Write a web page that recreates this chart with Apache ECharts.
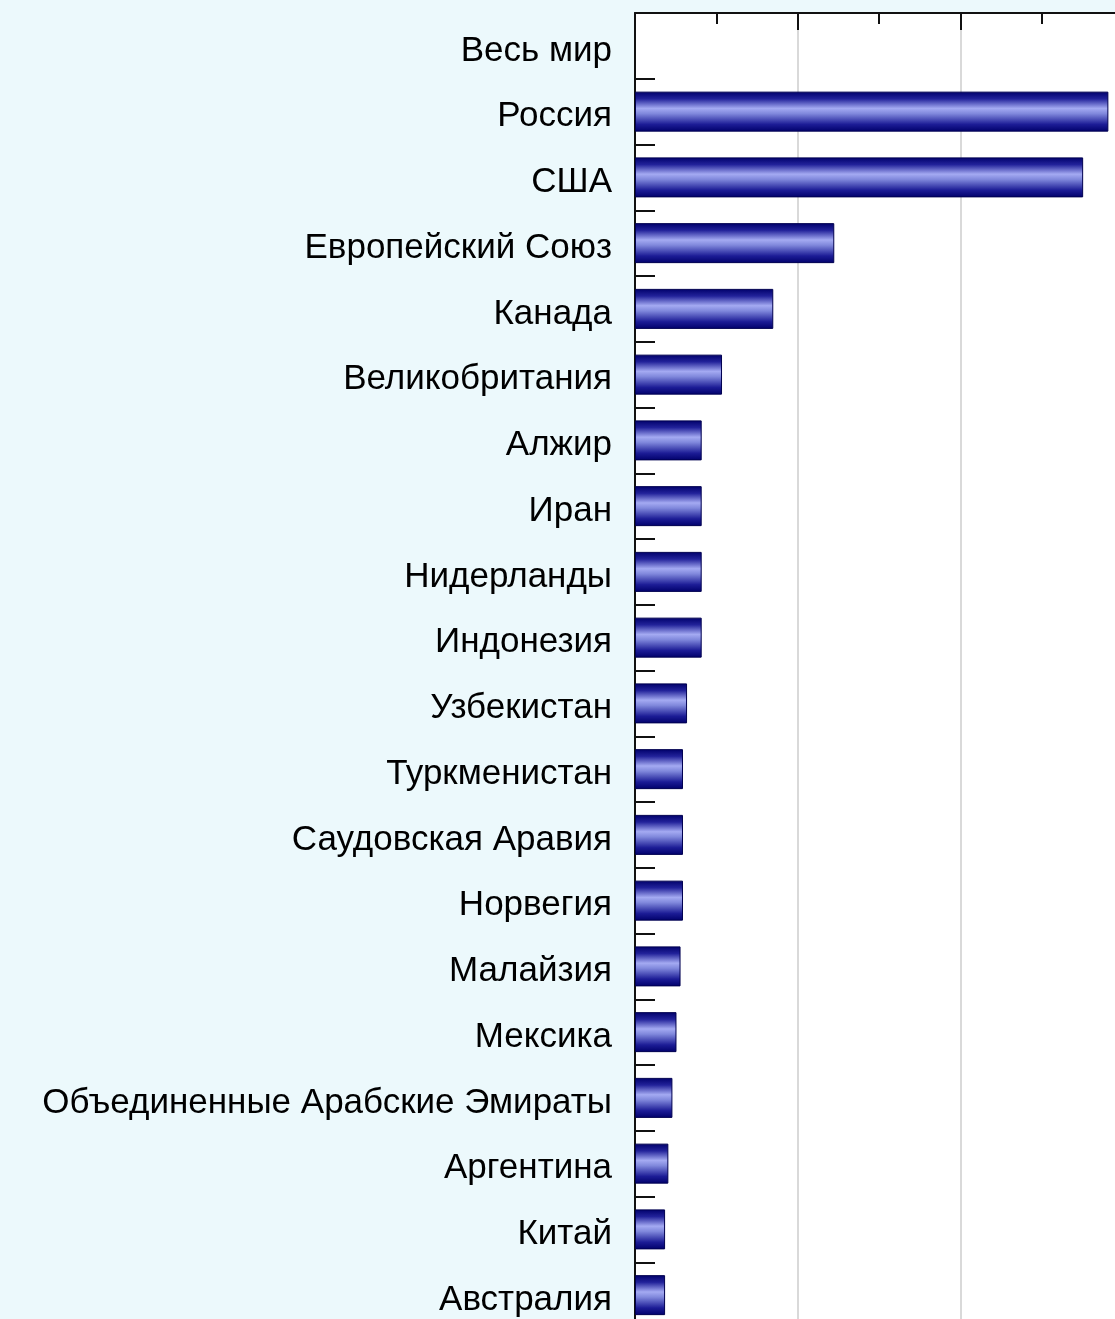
<!DOCTYPE html>
<html>
<head>
<meta charset="utf-8">
<script src="https://cdn.jsdelivr.net/npm/echarts@6/dist/echarts.min.js"></script>
<style>
html,body{margin:0;padding:0;overflow:hidden;background:#ecf9fc;}
#chart{width:1140px;height:1340px;}
</style>
</head>
<body>
<div id="chart"></div>
<script>
const categories = ["Весь мир","Россия","США","Европейский Союз","Канада","Великобритания","Алжир","Иран","Нидерланды","Индонезия","Узбекистан","Туркменистан","Саудовская Аравия","Норвегия","Малайзия","Мексика","Объединенные Арабские Эмираты","Аргентина","Китай","Австралия"];
const values = [null,582,551,245,170,107,82,82,82,82,64,59,59,59,56,51,46,41,37,37];
const axisMin = 0, axisMax = 600, axisInterval = 200;

const chart = echarts.init(document.getElementById('chart'), null, {renderer:'canvas'});
chart.setOption({
  backgroundColor: '#ecf9fc',
  animation: false,
  grid: {left: 635, top: 13, width: 488, height: 1315, show: true, backgroundColor: '#ffffff', borderWidth: 0},
  xAxis: {
    type: 'value', position: 'top', min: axisMin, max: axisMax, interval: axisInterval,
    axisLine: {show: true, lineStyle: {color: '#111', width: 2}},
    axisTick: {show: true, inside: true, length: 17, lineStyle: {color: '#111', width: 2}},
    minorTick: {show: true, splitNumber: 2, length: 11, lineStyle: {color: '#111', width: 2}},
    axisLabel: {show: false},
    splitLine: {show: true, lineStyle: {color: '#d9d9d9', width: 2}}
  },
  yAxis: {
    type: 'category', inverse: true, data: categories,
    axisLine: {show: true, lineStyle: {color: '#111', width: 2}},
    axisTick: {show: true, inside: true, length: 20, lineStyle: {color: '#111', width: 2}},
    axisLabel: {
      color: '#000', fontSize: 35, fontFamily: 'Liberation Sans, Arial, sans-serif', margin: 23,
      formatter: function (v) { return '{a|' + v + '}'; },
      rich: {a: {color: '#000', fontSize: 35, fontFamily: 'Liberation Sans, Arial, sans-serif', padding: [10,0,0,0]}}
    }
  },
  series: [{
    type: 'bar', data: values, barWidth: 40,
    itemStyle: {
      borderColor: '#000050', borderWidth: 1,
      color: new echarts.graphic.LinearGradient(0,0,0,1,[
        {offset:0, color:'#00006a'},
        {offset:0.18, color:'#22229a'},
        {offset:0.42, color:'#a4aaf2'},
        {offset:0.55, color:'#8088dc'},
        {offset:0.82, color:'#1c1c96'},
        {offset:1, color:'#00006a'}
      ])
    }
  }]
});
</script>
</body>
</html>
